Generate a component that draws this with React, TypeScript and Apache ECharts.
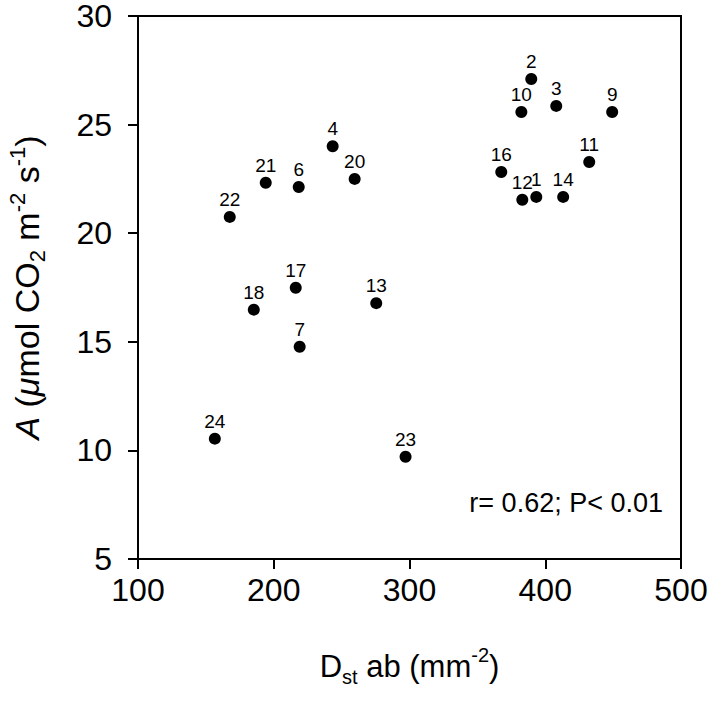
import React, { useEffect, useRef } from "react";
import * as echarts from "echarts";

const pointIds = ["1", "2", "3", "4", "6", "7", "9", "10", "11", "12", "13", "14", "16", "17", "18", "20", "21", "22", "23", "24"];
const stomatalDensity = [393.4, 389.7, 408.1, 243.4, 218.4, 219.1, 449.3, 382.4, 432.4, 383.1, 275.5, 413.2, 367.6, 216.2, 185.3, 259.6, 194.1, 167.6, 297.1, 156.6];
const assimilation = [21.67, 27.1, 25.86, 24.0, 22.13, 14.77, 25.58, 25.58, 23.28, 21.54, 16.78, 21.67, 22.82, 17.49, 16.48, 22.5, 22.32, 20.75, 9.71, 10.54];
const xTicks = { min: 100, max: 500, interval: 100 };
const yTicks = { min: 5, max: 30, interval: 5 };
const statText = "r= 0.62; P< 0.01";

const FONT = "'Liberation Sans', Arial, sans-serif";

export default function App() {
  const ref = useRef<HTMLDivElement>(null);
  useEffect(() => {
    document.body.style.margin = "0";
    if (!ref.current) return;
    const chart = echarts.init(ref.current, undefined, { renderer: "svg" });
    const data = pointIds.map((id, i) => ({ name: id, value: [stomatalDensity[i], assimilation[i]] }));
    const base = { fontFamily: FONT, color: "#000" };
    chart.setOption({
      animation: false,
      backgroundColor: "#fff",
      textStyle: { fontFamily: FONT },
      grid: {
        left: 138,
        right: 30,
        top: 16,
        bottom: 154,
        show: true,
        borderColor: "#000",
        borderWidth: 2,
        containLabel: false,
        outerBoundsMode: "none",
      },
      xAxis: {
        type: "value",
        min: xTicks.min,
        max: xTicks.max,
        interval: xTicks.interval,
        splitLine: { show: false },
        axisLine: { lineStyle: { color: "#000", width: 2 } },
        axisTick: { inside: false, length: 10, lineStyle: { color: "#000", width: 2 } },
        axisLabel: { ...base, fontSize: 32, lineHeight: 30, margin: 16 },
        name: "{a|D}{sub|st}{a| ab (mm}{sup|-2}{a|)}",
        nameLocation: "middle",
        nameGap: 86,
        nameTextStyle: {
          ...base,
          rich: {
            a: { ...base, fontSize: 31, lineHeight: 42 },
            sub: { ...base, fontSize: 20, lineHeight: 31, verticalAlign: "bottom" },
            sup: { ...base, fontSize: 20, lineHeight: 20, verticalAlign: "top" },
          },
        },
      },
      yAxis: {
        type: "value",
        min: yTicks.min,
        max: yTicks.max,
        interval: yTicks.interval,
        splitLine: { show: false },
        axisLine: { lineStyle: { color: "#000", width: 2 } },
        axisTick: { inside: false, length: 10, lineStyle: { color: "#000", width: 2 } },
        axisLabel: { ...base, fontSize: 32, lineHeight: 28, margin: 26 },
        name: "{i|A}{a| (}{i|μ}{a|mol CO}{sub|2}{a| m}{sup|-2}{a| s}{sup|-1}{a|)}",
        nameLocation: "middle",
        nameGap: 90,
        nameRotate: 90,
        nameTextStyle: {
          ...base,
          rich: {
            a: { ...base, fontSize: 34, lineHeight: 42 },
            i: { ...base, fontSize: 34, lineHeight: 42, fontStyle: "italic" },
            sub: { ...base, fontSize: 22, lineHeight: 31, verticalAlign: "bottom" },
            sup: { ...base, fontSize: 22, lineHeight: 22, verticalAlign: "top" },
          },
        },
      },
      series: [
        {
          type: "scatter",
          data,
          symbol: "circle",
          symbolSize: 12,
          itemStyle: { color: "#000", opacity: 1 },
          label: {
            show: true,
            position: "top",
            distance: 2,
            formatter: (p: any) => p.name,
            ...base,
            opacity: 1,
            fontSize: 19,
          },
          emphasis: { disabled: true },
        },
      ],
      graphic: [
        {
          type: "text",
          right: 48,
          top: 489,
          style: { text: statText, font: `27px ${FONT}`, fill: "#000" },
        },
      ],
    });
    return () => chart.dispose();
  }, []);
  return <div ref={ref} style={{ position: "fixed", left: 0, top: 0, width: 711, height: 713 }} />;
}
